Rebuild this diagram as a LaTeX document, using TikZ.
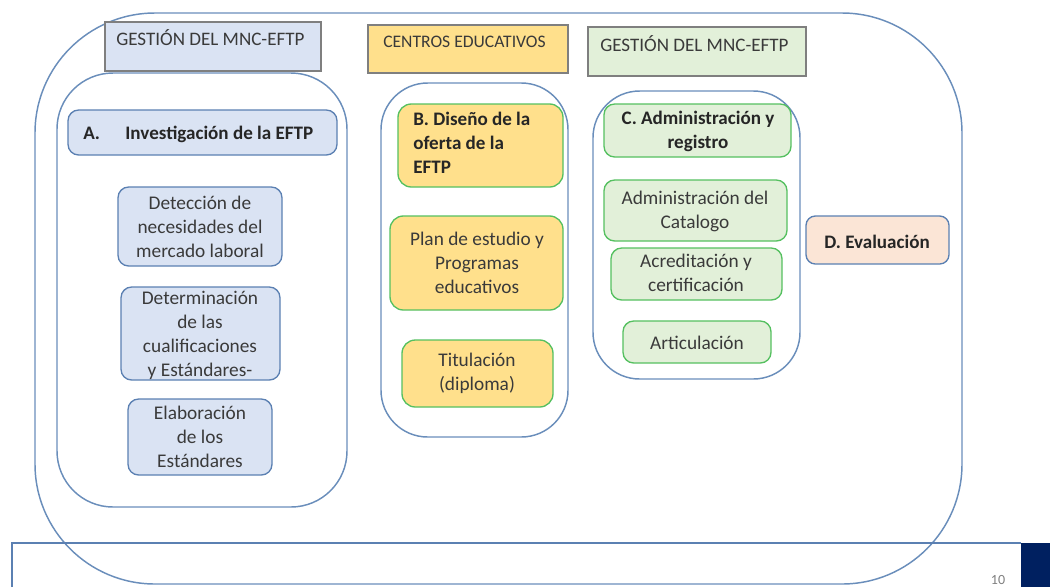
\documentclass[tikz,border=0pt]{standalone}
\usepackage{fontspec}
\setmainfont{Carlito}
\definecolor{lblue}{HTML}{DAE3F3}
\definecolor{bblue}{HTML}{5B80B2}
\definecolor{cblue}{HTML}{6A8EBB}
\definecolor{lyel}{HTML}{FFE08C}
\definecolor{lgreen}{HTML}{E2F0D9}
\definecolor{bgreen}{HTML}{55C060}
\definecolor{peach}{HTML}{FBE5D6}
\definecolor{hgray}{HTML}{7F7F7F}
\definecolor{navy}{HTML}{002060}
\definecolor{txt}{HTML}{3A3A3A}
\tikzset{
  container/.style={draw=cblue, line width=1.1pt},
  hdr/.style={draw=hgray, line width=0.8pt},
  bluebox/.style={draw=bblue, fill=lblue, line width=1pt, rounded corners=8pt},
  yelbox/.style={draw=bgreen, fill=lyel, line width=1pt, rounded corners=10pt},
  grnbox/.style={draw=bgreen, fill=lgreen, line width=1pt, rounded corners=8pt},
  lbl/.style={font=\fontsize{14.5}{18}\selectfont, text=txt, align=center, inner sep=0pt},
  blbl/.style={font=\fontsize{14.3}{18}\selectfont\bfseries, text=black!85, inner sep=0pt},
  hlbl/.style={text=txt, anchor=base west, inner sep=0pt},
}
\begin{document}
\begin{tikzpicture}[x=0.75pt,y=-0.75pt]
\useasboundingbox (0,0) rectangle (1050,587);
% outer container
\draw[container, rounded corners=90pt] (35,13) rectangle (962,584);
% footer
\draw[draw=bblue, line width=0.8pt] (12,587) -- (12,543) -- (1021,543);
\fill[navy] (1021,543) rectangle (1050,587);
\node[font=\fontsize{10.5}{12}\selectfont, text=hgray, anchor=base] (pg) at (998,584) {10};
% headers
\draw[hdr, fill=lblue] (105,22) rectangle (321,71);
\node[hlbl, font=\fontsize{14.3}{16}\selectfont] (h1) at (116,45) {GESTIÓN DEL MNC-EFTP};
\draw[hdr, fill=lyel] (368,25) rectangle (568,73);
\node[hlbl, font=\fontsize{13.2}{15}\selectfont] (h2) at (383,47) {CENTROS EDUCATIVOS};
\draw[hdr, fill=lgreen] (588,27) rectangle (806,76);
\node[hlbl, font=\fontsize{14.3}{16}\selectfont] (h3) at (600,51) {GESTIÓN DEL MNC-EFTP};
% containers
\draw[container, rounded corners=42pt] (57,73) rectangle (347,507);
\draw[container, rounded corners=35pt] (381,83) rectangle (568,437);
\draw[container, rounded corners=35pt] (593,91) rectangle (800,379);
% column A
\draw[bluebox] (68,110) rectangle (337,155);
\node[blbl, anchor=base west] (a) at (83,139) {A.\hspace{19pt}Investigación de la EFTP};
\draw[bluebox] (118,187) rectangle (282,266);
\node[lbl] (a1) at (200,227) {Detección de\\necesidades del\\mercado laboral};
\draw[bluebox] (121,287) rectangle (280,380);
\node[lbl] (a2) at (200,335) {Determinación\\de las\\cualificaciones\\y Estándares-};
\draw[bluebox] (128,399) rectangle (272,475);
\node[lbl] (a3) at (200,437) {Elaboración\\de los\\Estándares};
% column B
\draw[yelbox] (398,104) rectangle (563,187);
\node[blbl, align=left, anchor=north west] (b) at (413,112) {B. Diseño de la\\oferta de la\\EFTP};
\draw[yelbox] (390,216) rectangle (563,310);
\node[lbl] (b1) at (477,263) {Plan de estudio y\\Programas\\educativos};
\draw[yelbox] (402,340) rectangle (553,407);
\node[lbl] (b2) at (477,373) {Titulación\\(diploma)};
% column C
\draw[grnbox] (604,104) rectangle (791,157);
\node[blbl, align=center] (c) at (698,131) {C. Administración y\\registro};
\draw[grnbox] (604,180) rectangle (787,241);
\node[lbl] (c1) at (695,211) {Administración del\\Catalogo};
\draw[grnbox] (611,248) rectangle (782,300);
\node[lbl] (c2) at (696,273) {Acreditación y\\certificación};
\draw[grnbox] (623,321) rectangle (771,363);
\node[lbl] (c3) at (697,343) {Articulación};
% D
\draw[draw=bblue, fill=peach, line width=1pt, rounded corners=7pt] (806,216) rectangle (949,264);
\node[blbl] (d) at (877,242) {D. Evaluación};
\end{tikzpicture}
\end{document}
